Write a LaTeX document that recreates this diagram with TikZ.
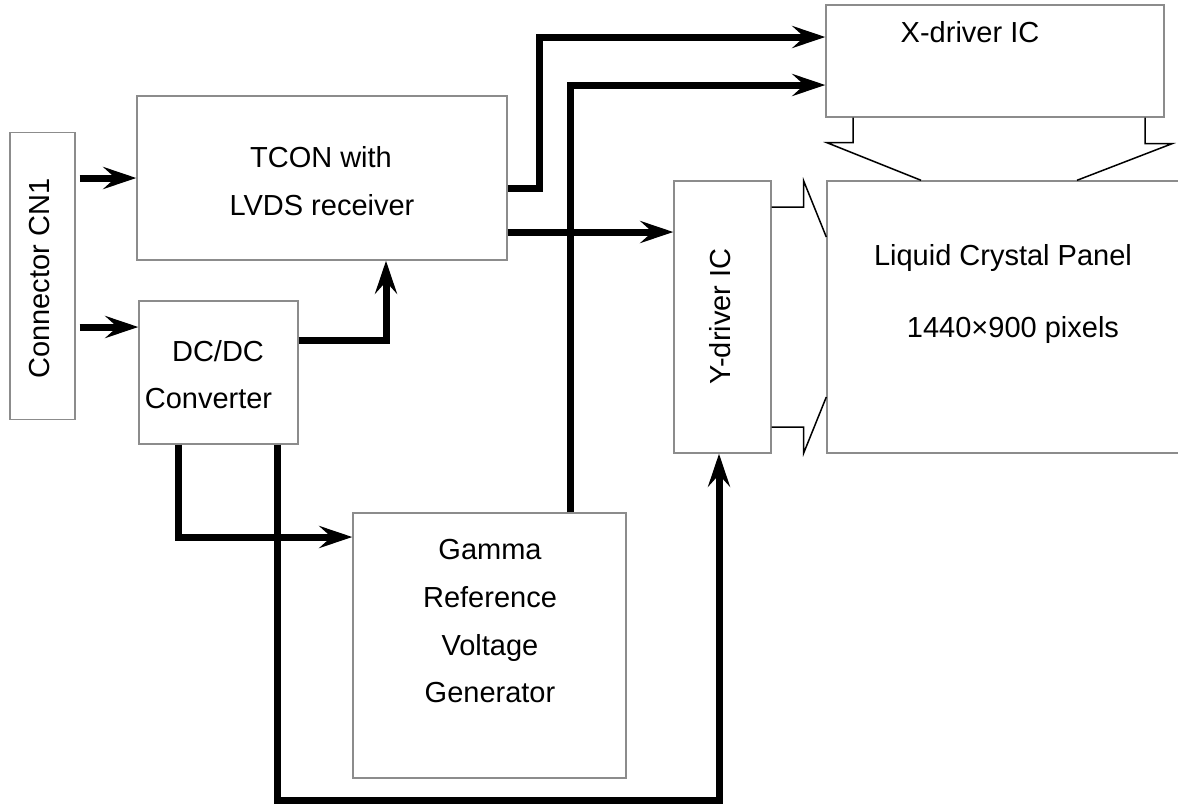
\documentclass[tikz,border=0pt]{standalone}
\usepackage{fontspec}
\setmainfont{Liberation Sans}
\usepackage{xcolor}
\usetikzlibrary{arrows.meta, calc, positioning}
\definecolor{boxgray}{RGB}{140,140,140}

\begin{document}
\begin{tikzpicture}[x=0.5pt, y=-0.5pt,
    box/.style={draw=boxgray, line width=0.7pt, inner sep=0pt},
    label/.style={font=\fontsize{14.5pt}{24pt}\selectfont, inner sep=0pt},
    wire/.style={line width=3.5pt, -{Stealth[length=16.5pt, width=11pt, inset=6pt]}},
    bus/.style={line width=0.75pt}]
    \useasboundingbox (0,0) rectangle (1178,805);

    % Blocks
    \node[box, minimum width=32.5pt, minimum height=143.5pt] (cn1) at (42.5,276) {};
    \node[box, minimum width=185pt, minimum height=82pt] (tcon) at (322,178) {};
    \node[box, minimum width=79.5pt, minimum height=71.5pt] (dcdc) at (218.5,372.5) {};
    \node[box, minimum width=169pt, minimum height=56pt] (xdrv) at (995,61) {};
    \node[box, minimum width=48.5pt, minimum height=136pt] (ydrv) at (722.5,317) {};
    \node[box, minimum width=181.5pt, minimum height=136pt] (panel) at (1008.5,317) {};
    \node[box, minimum width=136.5pt, minimum height=132.5pt] (gamma) at (489.5,645.5) {};

    % Texts
    \node[label, rotate=90] (cn1txt) at (40,278.5) {Connector CN1};
    \node[label, anchor=base] (tcontxta) at (321,167) {TCON with};
    \node[label, anchor=base] (tcontxtb) at (322,215) {LVDS receiver};
    \node[label, anchor=base] (dcdctxta) at (218,361) {DC/DC};
    \node[label, anchor=base] (dcdctxtb) at (208.5,408) {Converter};
    \node[label] (xdrvtxt) at (970,32) {X-driver IC};
    \node[label, rotate=90] (ydrvtxt) at (720,316.5) {Y-driver IC};
    \node[label, anchor=base] (paneltxta) at (1003,265) {Liquid Crystal Panel};
    \node[label, anchor=base] (paneltxtb) at (1013,337) {1440×900 pixels};
    \node[label, anchor=base] (gammatxta) at (490,559) {Gamma};
    \node[label, anchor=base] (gammatxtb) at (490,607) {Reference};
    \node[label, anchor=base] (gammatxtc) at (490,655) {Voltage};
    \node[label, anchor=base] (gammatxtd) at (490,702) {Generator};

    % Signal and supply lines
    \coordinate (in2) at ([yshift=22.75pt]dcdc.west);
    \coordinate (d1) at ([xshift=-20.25pt]dcdc.south);
    \coordinate (d2) at ([xshift=29.25pt]dcdc.south);
    \coordinate (ybot) at (0,800);
    \coordinate (tcy) at ([yshift=-27pt]tcon.east);

    \draw[wire, shorten <=2pt] (cn1.east |- tcon.west) -- (tcon.west);
    \draw[wire, shorten <=2pt] (cn1.east |- in2) -- (in2);
    \draw[wire] ([yshift=16.25pt]dcdc.east) -| ([xshift=32pt]tcon.south);
    \draw[wire] ([yshift=-5pt]tcon.east) -- ++(16pt,0) |- ([yshift=12pt]xdrv.west);
    \draw[wire] ([xshift=40.25pt]gamma.north) |- ([yshift=-12pt]xdrv.west);
    \draw[wire] (tcy) -- (tcy -| ydrv.west);
    \draw[wire] (d1) |- ([yshift=54.25pt]gamma.west);
    \draw[wire] (d2) -- (d2 |- ybot) -| ([xshift=-1.75pt]ydrv.south);

    % Driver outputs to the panel
    \draw[bus] ([yshift=55pt]ydrv.east) -- ++(16pt,0) -- ++(0,13pt) -- ([yshift=40pt]panel.west);
    \draw[bus] ([yshift=-55pt]ydrv.east) -- ++(16pt,0) -- ++(0,-13pt) -- ([yshift=-40pt]panel.west);
    \draw[bus] ([xshift=-71pt]xdrv.south) -- ++(0,-12.5pt) -- ++(-13pt,0) -- ([xshift=-43.75pt]panel.north);
    \draw[bus] ([xshift=75pt]xdrv.south) -- ++(0,-13pt) -- ++(13.5pt,0) -- ([xshift=34.25pt]panel.north);
\end{tikzpicture}
\end{document}
